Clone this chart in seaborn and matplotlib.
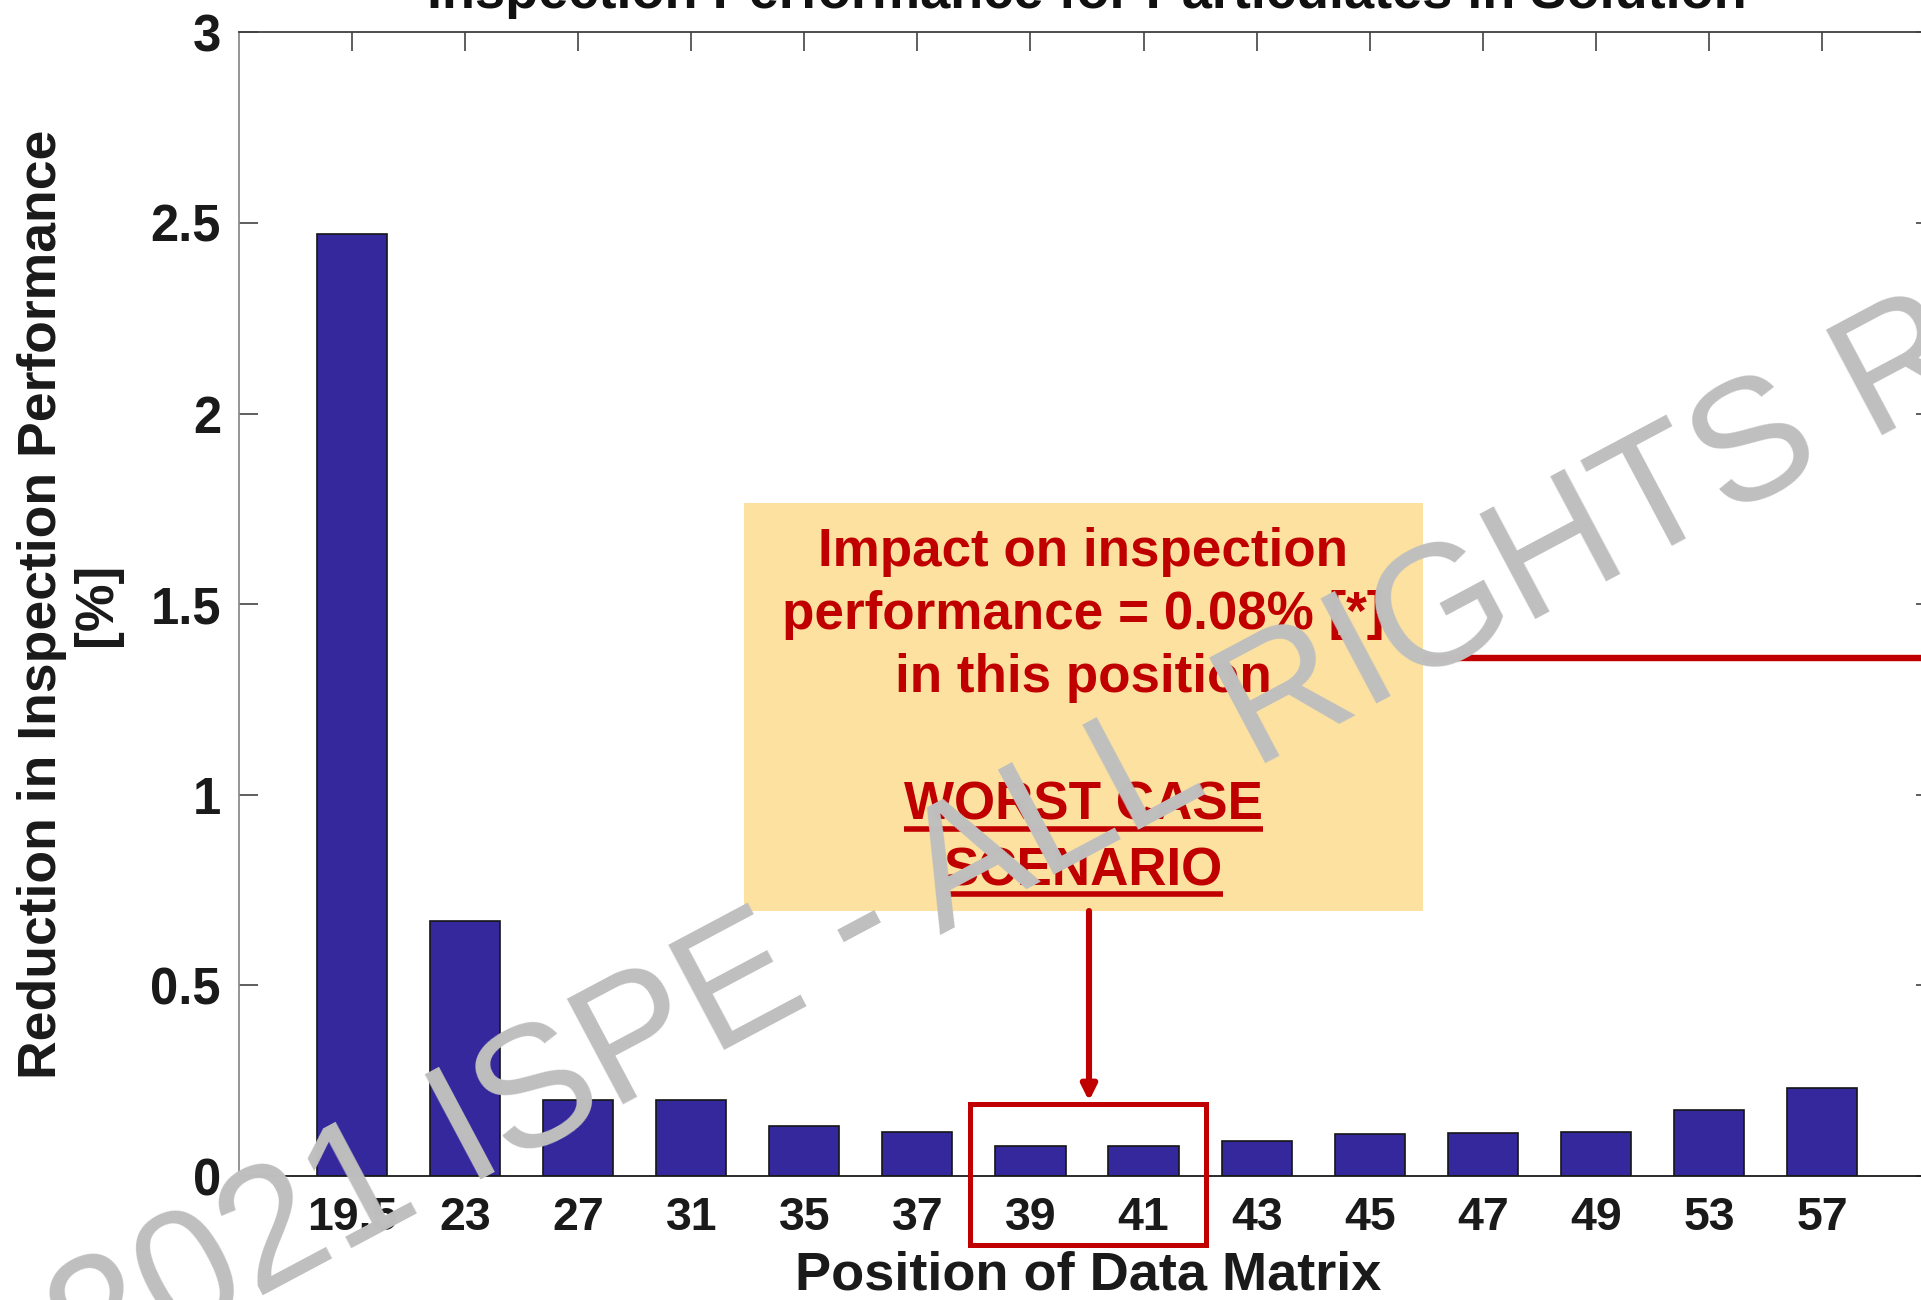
import matplotlib
matplotlib.use("Agg")
import matplotlib.pyplot as plt
import pandas as pd
import seaborn as sns
from matplotlib.patches import Rectangle, FancyArrowPatch
from matplotlib.lines import Line2D

# ---------------- data ----------------
positions = ["19.5", "23", "27", "31", "35", "37", "39", "41",
             "43", "45", "47", "49", "53", "57"]
reduction = [2.47, 0.67, 0.20, 0.20, 0.13, 0.115, 0.078, 0.078,
             0.092, 0.11, 0.113, 0.115, 0.174, 0.23]
yticks = [0, 0.5, 1, 1.5, 2, 2.5, 3]
ytick_labels = ["0", "0.5", "1", "1.5", "2", "2.5", "3"]

title = "Inspection Performance for Particulates in Solution"
xlabel = "Position of Data Matrix"
ylabel = "Reduction in Inspection Performance\n[%]"
note_lines = ["Impact on inspection", "performance = 0.08% [*]", "in this position"]
note_emph = ["WORST CASE", "SCENARIO"]
watermark_left = "© 2021 ISPE - ALL"
watermark_right = "RIGHTS RESERVED"

# ---------------- style ----------------
W, H, DPI = 1921, 1300, 100
sns.set_style("white")
plt.rcParams["font.family"] = ["Liberation Sans", "DejaVu Sans"]
plt.rcParams["font.weight"] = "bold"

RED = "#C00000"
BAR = "#34289C"


def fx(px):
    return px / W


def fy(py):
    return 1 - py / H


fig = plt.figure(figsize=(W / DPI, H / DPI), dpi=DPI)
fig.patch.set_facecolor("white")

ax_l, ax_r, ax_t, ax_b = 239, 1935, 32.3, 1176
ax = fig.add_axes([fx(ax_l), fy(ax_b), (ax_r - ax_l) / W, (ax_b - ax_t) / H])

df = pd.DataFrame({"position": positions, "reduction": reduction})
sns.barplot(data=df, x="position", y="reduction", order=positions,
            color=BAR, saturation=1, width=0.62, edgecolor="#151515",
            linewidth=1.2, errorbar=None, ax=ax)

ax.set_xlim(-1, len(positions))
ax.set_ylim(0, 3)
ax.set_yticks(yticks)
ax.set_yticklabels(ytick_labels)

ax.tick_params(axis="y", which="both", direction="in", length=14, width=1.1,
               left=True, right=True, labelsize=36.5, pad=13,
               color="#333333", labelcolor="#1a1a1a")
ax.tick_params(axis="x", which="both", direction="in", length=14, width=1.1,
               top=True, bottom=False, labelbottom=True, labelsize=33.5,
               pad=14.5, color="#333333", labelcolor="#1a1a1a")

for side, col in [("left", "#8c8c8c"), ("top", "#404040"),
                  ("right", "#404040"), ("bottom", "#1a1a1a")]:
    ax.spines[side].set_visible(True)
    ax.spines[side].set_color(col)
    ax.spines[side].set_linewidth(1.3)

ax.set_xlabel(xlabel, fontsize=39, fontweight="bold", color="#1a1a1a")
ax.xaxis.label.set_va("baseline")
ax.xaxis.set_label_coords((1088 - ax_l) / (ax_r - ax_l),
                          (ax_b - 1289) / (ax_b - ax_t))

ax.set_ylabel(ylabel, fontsize=38.5, fontweight="bold", color="#1a1a1a",
              linespacing=1.12)
ax.yaxis.set_label_coords((122 - ax_l) / (ax_r - ax_l), 0.5)

# ---------------- title (cut by the top edge) ----------------
fig.text(fx(1087), fy(8), title, ha="center", va="baseline",
         fontsize=39, fontweight="bold", color="#111111")

# ---------------- annotation ----------------
fig.add_artist(Line2D([fx(1423), fx(1960)], [fy(658), fy(658)],
                      color=RED, lw=4.6, transform=fig.transFigure, zorder=4))
fig.add_artist(Rectangle((fx(744), fy(911)), (1423 - 744) / W, (911 - 503) / H,
                         facecolor="#FCE1A0", edgecolor="none",
                         transform=fig.transFigure, zorder=5))

cx = 1083.5
for txt, base in zip(note_lines, [566, 629, 692]):
    fig.text(fx(cx), fy(base), txt, ha="center", va="baseline",
             fontsize=38.2, fontweight="bold", color=RED, zorder=6)
emph_texts = []
for txt, base in zip(note_emph, [820, 885]):
    t = fig.text(fx(cx), fy(base), txt, ha="center", va="baseline",
                 fontsize=38.2, fontweight="bold", color=RED, zorder=6)
    emph_texts.append((t, base))

fig.add_artist(FancyArrowPatch((fx(1089), fy(911)), (fx(1089), fy(1101)),
                               transform=fig.transFigure,
                               arrowstyle="-|>,head_length=9,head_width=4.5",
                               mutation_scale=1, color=RED, lw=4.4,
                               shrinkA=0, shrinkB=0, zorder=6))
fig.add_artist(Rectangle((fx(970), fy(1245)), (1206 - 970) / W, (1245 - 1104) / H,
                         fill=False, edgecolor=RED, lw=3.6,
                         transform=fig.transFigure, zorder=6))

# ---------------- watermark ----------------
wm = dict(fontsize=124, fontweight="normal", color="#BFBFBF", rotation=28,
          rotation_mode="anchor", va="baseline", zorder=10)
fig.text(fx(1253), fy(769), watermark_right, ha="left", **wm)
fig.text(fx(1211), fy(791.5), watermark_left, ha="right", **wm)

# underline the emphasised lines
fig.canvas.draw()
renderer = fig.canvas.get_renderer()
for t, base in emph_texts:
    bb = t.get_window_extent(renderer)
    fig.add_artist(Line2D([bb.x0 / W, bb.x1 / W], [fy(base + 9)] * 2,
                          color=RED, lw=4.0, transform=fig.transFigure,
                          zorder=6, solid_capstyle="butt"))

fig.savefig("out.png", dpi=DPI)
